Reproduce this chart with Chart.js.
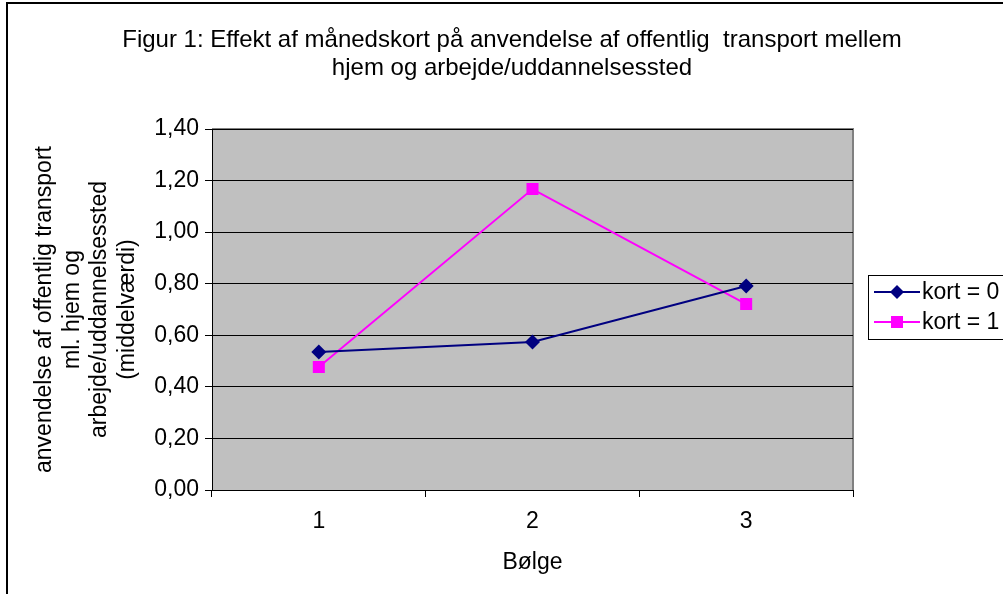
<!DOCTYPE html>
<html>
<head>
<meta charset="utf-8">
<script src="https://cdn.jsdelivr.net/npm/chart.js@4/dist/chart.umd.min.js"></script>
<style>
  html, body { margin: 0; padding: 0; overflow: hidden; background: #fff; }
  #wrap { width: 1024px; height: 620px; }
</style>
</head>
<body>
<div id="wrap"><canvas id="Graph1"></canvas></div>
<script>
let categories = ["1", "2", "3"];
let kort0 = [0.535, 0.574, 0.791];
let kort1 = [0.477, 1.167, 0.721];
let seriesNames = ["kort = 0", "kort = 1"];
let seriesColors = ["#000080", "#FF00FF"];
let titleLines = ["Figur 1: Effekt af månedskort på anvendelse af offentlig  transport mellem", "hjem og arbejde/uddannelsessted"];
let yTitleLines = ["anvendelse af offentlig transport", "ml. hjem og", "arbejde/uddannelsessted", "(middelværdi)"];

const fontFam = "'Liberation Sans', Arial, sans-serif";

// grey plot area, outer frame and the legend box
const excelLook = {
    id: "excelLook",
    beforeDraw(chart) {
        const ctx = chart.ctx;
        const a = chart.chartArea;
        ctx.save();
        ctx.fillStyle = "#C0C0C0";
        ctx.fillRect(a.left, a.top, a.right - a.left, a.bottom - a.top);
        ctx.strokeStyle = "#808080";
        ctx.lineWidth = 2;
        ctx.beginPath();
        ctx.moveTo(a.left, a.top);
        ctx.lineTo(a.right, a.top);
        ctx.lineTo(a.right, a.bottom);
        ctx.stroke();
        ctx.strokeStyle = "#000";
        ctx.lineWidth = 2;
        ctx.strokeRect(7, 3, 1030, 640);
        ctx.restore();
    },
    afterDraw(chart) {
        const ctx = chart.ctx;
        ctx.save();
        ctx.strokeStyle = "#000";
        ctx.lineWidth = 1;
        ctx.strokeRect(868.5, 275.5, 160, 64);
        chart.data.datasets.forEach((ds, i) => {
            const y = 292 + i * 30;
            ctx.strokeStyle = ds.borderColor;
            ctx.lineWidth = 2;
            ctx.beginPath();
            ctx.moveTo(874, y);
            ctx.lineTo(920, y);
            ctx.stroke();
            ctx.fillStyle = ds.pointBackgroundColor;
            ctx.beginPath();
            if (ds.pointStyle === "rectRot") {
                ctx.moveTo(897, y - 7);
                ctx.lineTo(904, y);
                ctx.lineTo(897, y + 7);
                ctx.lineTo(890, y);
                ctx.closePath();
            } else {
                ctx.rect(891, y - 6, 12, 12);
            }
            ctx.fill();
            ctx.fillStyle = "#000";
            ctx.font = "23px " + fontFam;
            ctx.textBaseline = "middle";
            ctx.textAlign = "left";
            ctx.fillText(ds.label, 922, y + 1);
        });
        ctx.restore();
    }
};

new Chart("Graph1", {
    type: "line",
    data: {
        labels: categories,
        datasets: [{
            label: seriesNames[0],
            data: kort0,
            borderColor: seriesColors[0],
            backgroundColor: seriesColors[0],
            pointBackgroundColor: seriesColors[0],
            pointBorderColor: seriesColors[0],
            pointStyle: "rectRot",
            pointRadius: 7.5,
            pointBorderWidth: 0,
            borderWidth: 2,
            tension: 0
        }, {
            label: seriesNames[1],
            data: kort1,
            borderColor: seriesColors[1],
            backgroundColor: seriesColors[1],
            pointBackgroundColor: seriesColors[1],
            pointBorderColor: seriesColors[1],
            pointStyle: "rect",
            pointRadius: 8.5,
            pointBorderWidth: 0,
            borderWidth: 2,
            tension: 0
        }]
    },
    options: {
        responsive: true,
        maintainAspectRatio: false,
        animation: false,
        layout: { padding: 0 },
        plugins: {
            legend: { display: false },
            tooltip: { enabled: false },
            title: {
                display: true,
                text: titleLines,
                color: "#000",
                font: { family: fontFam, size: 24, weight: "normal", lineHeight: 1.167 },
                padding: { top: 26, bottom: 47 }
            }
        },
        scales: {
            x: {
                offset: true,
                afterFit: (scale) => { scale.height = 130; },
                grid: {
                    offset: true,
                    drawOnChartArea: false,
                    color: "#000",
                    tickColor: "#000",
                    tickLength: 7
                },
                border: { color: "#000", width: 1 },
                ticks: {
                    color: "#000",
                    padding: 11,
                    font: { family: fontFam, size: 23 }
                },
                title: {
                    display: true,
                    text: "Bølge",
                    color: "#000",
                    font: { family: fontFam, size: 23 },
                    padding: { top: 0, bottom: 44 }
                }
            },
            y: {
                min: 0,
                max: 1.4,
                afterFit: (scale) => { scale.width = 212; },
                grid: {
                    color: "#000",
                    tickColor: "#000",
                    tickLength: 7
                },
                border: { color: "#000", width: 1 },
                ticks: {
                    stepSize: 0.2,
                    color: "#000",
                    padding: 6,
                    font: { family: fontFam, size: 23 },
                    callback: (v) => v.toFixed(2).replace(".", ",")
                },
                title: {
                    display: true,
                    text: yTitleLines,
                    color: "#000",
                    font: { family: fontFam, size: 23, lineHeight: 1.2 },
                    padding: { top: 31, bottom: 0 }
                }
            },
            // empty right-hand axis that keeps room for the legend
            yRight: {
                position: "right",
                afterFit: (scale) => { scale.width = 171; },
                grid: { display: false },
                border: { display: false },
                ticks: { display: false }
            }
        }
    },
    plugins: [excelLook]
});
</script>
</body>
</html>
